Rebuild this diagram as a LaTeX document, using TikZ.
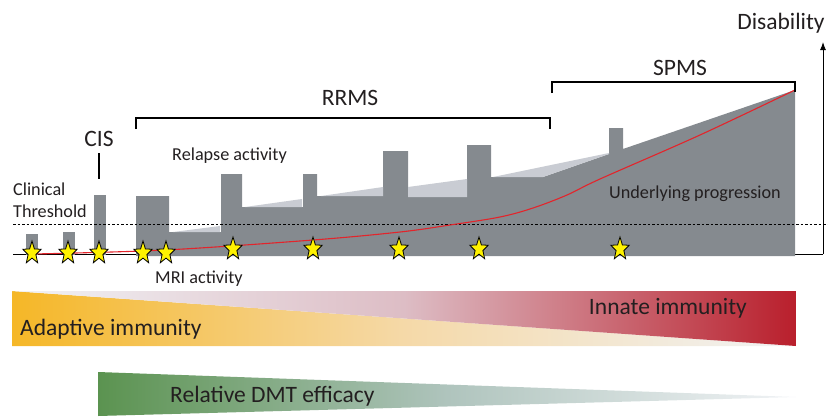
\documentclass[tikz,border=0pt]{standalone}
\usepackage{fontspec}
\setmainfont{Carlito}
\usetikzlibrary{arrows.meta}

\definecolor{txt}{HTML}{231F20}
\definecolor{msgrey}{HTML}{858A8F}
\definecolor{mslight}{HTML}{C9CCD3}
\definecolor{progred}{HTML}{E3242B}
\definecolor{staryellow}{HTML}{FFF200}
\definecolor{adaptorange}{HTML}{F5B727}
\definecolor{adaptmid}{HTML}{F5D9A8}
\definecolor{fadewhite}{HTML}{F1F3F6}
\definecolor{innatemid}{HTML}{DDBDC5}
\definecolor{innatered}{HTML}{B91F2C}
\definecolor{dmtgreen}{HTML}{5B9350}
\definecolor{dmtmid}{HTML}{AFC4BD}

\tikzset{
	big/.style={font=\fontsize{23.5}{27}\selectfont, text=txt, inner sep=0pt},
	small/.style={font=\fontsize{18.2}{22}\selectfont, text=txt, inner sep=0pt},
	starline/.style={fill=staryellow, draw=black, line width=0.8pt, line join=miter},
	mristar/.pic={
		\draw[starline] plot[samples at={0,...,9}]
			({(mod(\x,2)==0 ? 9.6 : 4.1)*cos(-90+36*\x)},
			 {(mod(\x,2)==0 ? 12 : 5.1)*sin(-90+36*\x)}) -- cycle;
	},
	bracket/.style={draw=black, line width=1.1pt},
}

\begin{document}
\begin{tikzpicture}[x=1pt,y=-1pt]
	\useasboundingbox (0,0) rectangle (828,416);
	% immunity and DMT bands
	\shade[left color=adaptorange, right color=fadewhite, middle color=adaptmid]
		(12,291) -- (12,346) -- (796,346) -- cycle;
	\shade[left color=fadewhite, right color=innatered, middle color=innatemid]
		(12,291) -- (796,291) -- (796,346) -- cycle;
	\shade[left color=dmtgreen, right color=fadewhite, middle color=dmtmid]
		(98,372) -- (98,416) -- (796,397) -- cycle;
	\node[big, anchor=base west] (adaptive) at (20,335) {Adaptive immunity};
	\node[big, anchor=base east] (innate) at (747,314) {Innate immunity};
	\node[big, anchor=base west] (dmt) at (170,402) {Relative DMT efficacy};
	
	% axes
	\coordinate (origin) at (13,254);
	\coordinate (axisfoot) at (823,254);
	\coordinate (axistop) at (823,42);
	\draw[line width=1pt] (origin) -- (axisfoot);
	\draw[line width=1pt, -{Latex[length=8pt,width=6pt]}] (axisfoot) -- (axistop);
	\node[big, anchor=base] (disab) at (781,29) {Disability};
	
	% disability course
	\foreach \x/\t in {26/234, 63/232, 94/195}
		\fill[msgrey] (\x,255) rectangle (\x+12,\t);
	\fill[msgrey] (136,256) -- (136,196) -- (169,196) -- (169,232) -- (221,232)
		-- (221,174) -- (242,174) -- (242,207) -- (303,207) -- (303,174)
		-- (317,174) -- (317,196) -- (383,196) -- (383,151) -- (408,151)
		-- (408,197) -- (467,197) -- (467,145) -- (491,145) -- (491,177)
		-- (543,177) -- (609,154) -- (609,128) -- (623,128) -- (623,149)
		-- (795,90) -- (795,256) -- cycle;
	% relapse recovery wedges
	\fill[mslight] (173,232) -- (220,226) -- (220,232) -- cycle;
	\fill[mslight] (245,207) -- (302,199) -- (302,207) -- cycle;
	\fill[mslight] (321,196) -- (383,187) -- (383,196) -- cycle;
	\fill[mslight] (408,187) -- (467,179) -- (467,197) -- (408,197) -- cycle;
	\fill[mslight] (493,177) -- (609,153) -- (609,154) -- (543,177) -- cycle;
	
	% threshold
	\coordinate (thrA) at (13,224);
	\coordinate (thrB) at (828,224);
	\draw[line width=0.8pt, dash pattern=on 2.5pt off 2pt] (thrA) -- (thrB);
	\node[small, anchor=base west] (clin) at (13,195) {Clinical};
	\node[small, anchor=base west] (thr) at (13,217) {Threshold};
	
	% underlying progression
	\draw[progred, line width=1.1pt] plot[smooth, tension=0.55] coordinates
		{(33,254) (165,250) (313,240) (400,232) (450,225) (500,217) (533,208)
		 (567,195) (600,179) (700,135) (795,90)};
	\node[small, anchor=base west] (underl) at (609,198) {Underlying progression};
	
	% MRI activity
	\foreach \x in {32,68,99,143,166}
		\pic at (\x,253) {mristar};
	\foreach \x in {233,313,399,479,620}
		\pic at (\x,249) {mristar};
	\node[small, anchor=base west] (mri) at (155,283) {MRI activity};
	\node[small, anchor=base west] (relapse) at (172,160) {Relapse activity};
	
	% phases
	\node[big, anchor=base] (cis) at (99,146) {CIS};
	\coordinate (cisA) at (99,153);
	\coordinate (cisB) at (99,179);
	\draw[bracket] (cisA) -- (cisB);
	\node[big, anchor=base] (rrms) at (350,105) {RRMS};
	\draw[bracket] (136,129) -- (136,118) -- (550,118) -- (550,129);
	\node[big, anchor=base] (spms) at (680,75) {SPMS};
	\draw[bracket] (552,93) -- (552,82) -- (795,82) -- (795,92);
\end{tikzpicture}
\end{document}
